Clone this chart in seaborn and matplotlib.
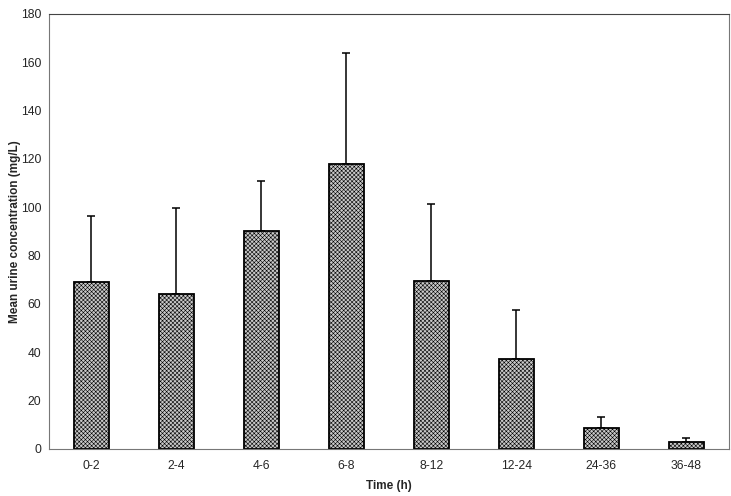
import numpy as np
import pandas as pd
import seaborn as sns
import matplotlib
matplotlib.use("Agg")
import matplotlib.pyplot as plt

# time intervals and mean urine concentration (mg/L), upper SD
intervals = ["0-2", "2-4", "4-6", "6-8", "8-12", "12-24", "24-36", "36-48"]
means = [69, 64, 90, 118, 69.5, 37, 8.5, 3]
upper = [96.5, 99.5, 111, 164, 101.5, 57.5, 13, 4.5]

df = pd.DataFrame({"interval": intervals, "mean": means})

sns.set_style("white")
plt.rcParams["font.family"] = ["Liberation Sans", "DejaVu Sans"]
plt.rcParams["hatch.color"] = "#8a8a8a"
plt.rcParams["hatch.linewidth"] = 0.4

fig = plt.figure(figsize=(7.31, 4.96), dpi=100)
ax = fig.add_axes([0.067, 0.095, 0.93, 0.877])

sns.barplot(data=df, x="interval", y="mean", color="#c8c8c8", width=0.41,
            edgecolor="black", linewidth=1.3, saturation=1, ax=ax, zorder=2)
for patch in ax.patches:
    patch.set_hatch("xxxxxxxx")

sd = np.array(upper) - np.array(means)
ax.errorbar(np.arange(len(intervals)), means, yerr=[np.zeros(len(sd)), sd],
            fmt="none", ecolor="black", elinewidth=1.1, capsize=2.6, capthick=1.1, zorder=1)

ax.set_ylim(0, 180)
ax.set_xlim(-0.5, len(intervals) - 0.5)
ax.set_yticks(range(0, 181, 20))
ax.set_xticks(np.arange(len(intervals)))
ax.set_xticks(np.arange(-0.5, len(intervals), 1), minor=True)
ax.tick_params(axis="x", which="major", length=0, labelsize=8.7, pad=8)
ax.tick_params(axis="x", which="minor", length=3.5, width=0.8, direction="out", color="#666666")
ax.tick_params(axis="y", length=3, width=0.8, direction="out", labelsize=8.7, color="#666666", pad=2.5)

for side in ["left", "bottom", "right"]:
    ax.spines[side].set_visible(True)
    ax.spines[side].set_color("#777777")
    ax.spines[side].set_linewidth(0.8)
ax.spines["top"].set_visible(True)
ax.spines["top"].set_color("#444444")
ax.spines["top"].set_linewidth(0.8)

ax.set_xlabel("Time (h)", fontsize=8.5, fontweight="bold", labelpad=6)
ax.set_ylabel("Mean urine concentration (mg/L)", fontsize=8.5, fontweight="bold")
ax.yaxis.set_label_coords(-0.041, 0.5)

fig.savefig("out.png", dpi=100)
